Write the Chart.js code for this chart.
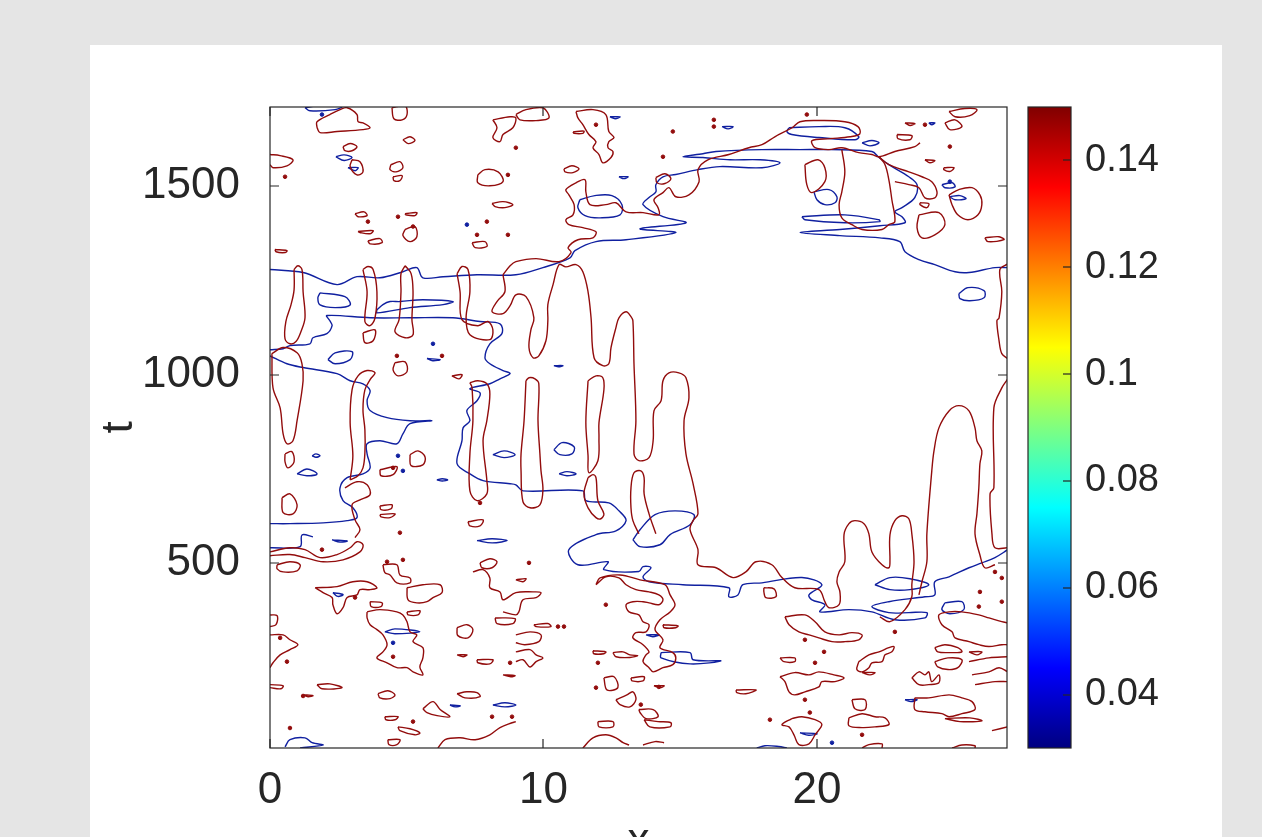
<!DOCTYPE html>
<html>
<head>
<meta charset="utf-8">
<script src="https://cdn.jsdelivr.net/npm/chart.js@4.4.0/dist/chart.umd.min.js"></script>
<style>
  html, body { margin: 0; padding: 0; background: #e5e5e5; width: 1262px; height: 837px; overflow: hidden; }
  #panel { position: absolute; left: 90px; top: 45px; width: 1132px; height: 792px; background: #fff; }
  #main { position: absolute; left: 0; top: 0; }
  #cbar { position: absolute; left: 1000px; top: 0; }
</style>
</head>
<body>
<div id="panel"></div>
<canvas id="main" width="1262" height="837"></canvas>
<canvas id="cbar" width="262" height="837"></canvas>
<script>
// axes
const xRange = [0, 26.95];
const tRange = [10, 1710];
const xTicks = [0, 10, 20];
const tTicks = [500, 1000, 1500];
const cbRange = [0.03, 0.15];
const cbTicks = [0.04, 0.06, 0.08, 0.10, 0.12, 0.14];

// low level contours (x, t pairs)
const blueContours = [
  [0,1279, 1.21,1271, 2.45,1239, 3.18,1260, 4.02,1257, 4.86,1273, 5.37,1284, 5.59,1257, 6.33,1260, 7.57,1265, 8.99,1265, 9.98,1284, 10.97,1310, 11.15,1329, 11.92,1353, 13.02,1358, 14.84,1377, 13.53,1387, 15.21,1403, 14.37,1419, 13.64,1451, 13.86,1470, 14.11,1485, 14.11,1504, 14.37,1525, 14.84,1531, 15.65,1544, 16.45,1552, 17.99,1549, 18.65,1562, 17.92,1570, 16.82,1570, 15.83,1576, 15.10,1578, 15.83,1586, 16.31,1592, 17.99,1597, 19.38,1597, 20.48,1597, 22.01,1592, 22.27,1576, 22.63,1557, 23.36,1525, 23.66,1504, 23.58,1470, 23.11,1443, 22.85,1432, 23.11,1419, 23.22,1403, 22.30,1395, 20.84,1385, 19.38,1377, 20.84,1369, 22.30,1363, 23.03,1353, 23.22,1326, 23.73,1305, 24.31,1292, 25.05,1273, 25.56,1271, 26.51,1284, 26.98,1284],
  [0,1050, 0.62,1029, 1.21,1019, 2.45,1003, 2.93,984, 3.40,976, 3.66,958, 3.55,931, 3.66,905, 4.28,886, 5.12,878, 5.92,878, 5.12,870, 4.86,843, 4.64,817, 4.02,825, 3.55,817, 3.55,790, 3.66,753, 3.40,737, 2.82,727, 2.56,700, 2.67,666, 3.03,647, 3.18,621, 2.82,613, 1.94,607, 0.73,605, 0,605],
  [0,1066, 0.48,1069, 0.73,1077, 1.46,1082, 1.57,1098, 2.08,1109, 2.27,1130, 2.19,1143, 2.08,1157, 3.66,1151, 5.12,1151, 6.69,1151, 7.68,1141, 8.41,1135, 8.48,1109, 8.04,1082, 7.86,1045, 8.04,1029, 8.52,1011, 8.78,1003, 8.41,989, 8.04,976, 7.31,963, 7.68,952, 7.57,931, 7.20,905, 7.31,878, 7.06,859, 7.02,825, 6.84,764, 7.31,737, 7.79,719, 8.78,711, 8.99,708, 9.25,692, 11.44,692, 11.55,666, 12.39,660, 12.76,639, 13.02,613, 12.65,586, 11.92,576, 10.93,536, 11.26,496, 12.36,504, 12.21,483, 13.49,478, 13.64,491, 13.93,488, 13.64,464, 13.86,451, 15.10,443, 16.78,435, 16.78,411, 17.11,416, 17.29,443, 17.99,448, 19.45,462, 20.18,443, 19.71,416, 19.82,403, 20.29,390, 20.11,371, 21.17,377, 22.01,371, 22.85,350, 23.95,355, 24.02,369, 23.36,369, 22.63,369, 22.01,385, 22.63,398, 23.95,411, 24.31,416, 24.31,451, 24.83,464, 25.56,488, 26.03,501, 26.51,515, 26.98,536],
  [18.98,1655, 20.07,1658, 21.02,1655, 21.53,1631, 21.39,1623, 20.07,1629, 19.08,1637, 18.90,1645, 18.98,1655],
  [19.89,1485, 20.44,1491, 20.73,1472, 20.66,1456, 20.29,1451, 20.00,1464, 19.89,1485],
  [19.45,1419, 21.02,1424, 22.27,1411, 22.30,1406, 21.02,1403, 19.56,1411, 19.45,1419],
  [21.65,1615, 22.01,1621, 22.27,1615, 21.94,1607, 21.65,1615],
  [24.57,1504, 24.95,1509, 25.05,1498, 24.68,1496, 24.57,1504],
  [24.86,1472, 25.23,1475, 25.45,1467, 25.05,1464, 24.86,1472],
  [25.19,1215, 25.52,1231, 26.11,1223, 26.11,1204, 25.59,1196, 25.23,1202, 25.19,1215],
  [1.28,1708, 2.01,1716, 2.63,1711, 2.38,1703, 1.46,1700, 1.28,1708],
  [2.41,1578, 2.71,1583, 3.00,1576, 2.71,1568, 2.41,1578],
  [2.85,1549, 3.22,1549, 3.11,1541, 2.85,1549],
  [12.43,1684, 12.80,1684, 12.62,1679, 12.43,1684],
  [16.53,1658, 16.93,1658, 16.75,1652, 16.53,1658],
  [12.76,1525, 13.09,1525, 12.94,1520, 12.76,1525],
  [24.09,1668, 24.31,1668, 24.20,1663, 24.09,1668],
  [11.33,1464, 11.88,1475, 12.50,1475, 12.87,1451, 12.80,1424, 12.07,1416, 11.52,1422, 11.26,1443, 11.33,1464],
  [1.83,1217, 2.74,1207, 2.93,1185, 2.38,1178, 1.83,1185, 1.75,1204, 1.83,1217],
  [3.91,1172, 4.13,1186, 4.39,1194, 4.75,1194, 5.59,1199, 6.69,1194, 6.33,1186, 5.12,1178, 3.91,1164, 3.91,1172],
  [2.12,1040, 2.38,1058, 3.00,1061, 2.93,1040, 2.38,1029, 2.12,1040],
  [0.99,737, 1.35,750, 1.72,737, 1.35,732, 0.99,737],
  [1.54,785, 1.68,790, 1.83,785, 1.68,781, 1.54,785],
  [8.15,788, 8.56,798, 8.96,788, 8.56,780, 8.15,788],
  [6.10,721, 6.30,724, 6.50,721, 6.30,718, 6.10,721],
  [5.74,1043, 6.22,1040, 5.95,1037, 5.74,1043],
  [10.38,1024, 10.71,1024, 10.55,1021, 10.38,1024],
  [10.38,801, 10.68,820, 11.12,809, 11.04,790, 10.60,788, 10.38,801],
  [10.57,737, 10.86,743, 11.19,737, 10.86,732, 10.57,737],
  [13.27,562, 13.53,589, 14.08,629, 14.81,639, 15.50,629, 15.36,602, 14.63,576, 14.26,549, 13.53,544, 13.27,562],
  [14.30,263, 15.36,263, 15.47,244, 16.49,241, 15.36,233, 14.30,249, 14.30,263],
  [13.75,310, 14.22,310, 14.00,305, 13.75,310],
  [4.20,318, 4.57,326, 5.48,318, 4.57,313, 4.20,318],
  [2.27,562, 2.82,559, 2.56,556, 2.27,562],
  [7.57,560, 8.12,565, 8.67,560, 8.12,554, 7.57,560],
  [2.30,422, 2.67,417, 2.48,412, 2.30,422],
  [6.58,124, 6.95,122, 6.77,119, 6.58,124],
  [8.15,124, 8.59,130, 8.99,124, 8.59,119, 8.15,124],
  [0.55,13, 0.73,32, 1.28,37, 1.54,24, 1.94,18, 1.10,10],
  [22.12,443, 22.67,462, 23.40,459, 24.09,443, 23.40,430, 22.67,430, 22.12,443],
  [24.68,395, 25.30,398, 25.37,377, 24.86,366, 24.57,377, 24.68,395],
  [23.22,138, 23.66,138, 23.44,133, 23.22,138],
  [19.38,50, 20.00,48, 19.70,44, 19.38,50],
  [17.8,10, 18.1,16, 18.6,14, 18.9,10],
  [0,541, 1.10,544, 1.17,575, 1.57,570]
];

// high level contours (x, t pairs)
const redContours = [
  [0.88,1279, 1.02,1289, 1.17,1279, 1.21,1220, 1.28,1151, 1.13,1114, 0.95,1088, 0.73,1082, 0.55,1095, 0.58,1141, 0.77,1186, 0.88,1225, 0.88,1279],
  [0.07,1056, 0.48,1072, 0.99,1058, 1.17,1029, 1.21,984, 0.99,878, 0.84,825, 0.62,817, 0.48,843, 0.37,912, 0.11,965, 0.07,1056],
  [2.93,721, 3.03,785, 2.93,873, 3.00,960, 3.22,997, 3.55,1011, 3.84,1005, 3.66,987, 3.47,960, 3.40,907, 3.47,854, 3.47,793, 3.40,753, 3.22,732, 2.93,721],
  [3.40,1279, 3.58,1287, 3.77,1279, 3.91,1220, 3.84,1151, 3.66,1130, 3.47,1141, 3.55,1220, 3.40,1279],
  [4.94,1289, 5.16,1268, 5.23,1220, 5.19,1146, 5.23,1106, 4.94,1098, 4.57,1114, 4.72,1146, 4.79,1220, 4.79,1268, 4.94,1289],
  [6.84,1268, 7.02,1287, 7.24,1279, 7.31,1220, 7.17,1151, 7.31,1106, 8.04,1093, 8.15,1119, 7.97,1141, 7.60,1130, 7.02,1146, 6.95,1220, 6.84,1268],
  [8.52,1265, 8.59,1220, 8.30,1194, 8.12,1167, 8.52,1162, 8.78,1183, 8.99,1212, 9.36,1207, 9.65,1151, 9.54,1119, 9.47,1072, 9.62,1045, 9.83,1050, 10.09,1090, 10.16,1143, 10.16,1186, 10.35,1239, 10.57,1292, 10.82,1286, 11.19,1292, 11.44,1273, 11.63,1220, 11.74,1151, 11.85,1045, 12.17,1024, 12.39,1029, 12.47,1072, 12.65,1125, 12.76,1151, 13.02,1167, 13.20,1154, 13.27,1143, 13.31,1029, 13.38,878, 13.31,790, 13.49,772, 13.86,780, 14.01,825, 14.04,904, 14.30,931, 14.37,984, 14.59,1005, 14.95,1005, 15.21,992, 15.32,939, 15.14,878, 15.21,790, 15.47,711, 15.65,631, 15.47,613, 15.36,589, 15.65,536, 15.65,496, 16.31,488, 16.93,462, 17.40,477, 17.77,504, 18.35,496, 18.72,462, 19.19,435, 20.07,430, 20.29,398, 20.44,382, 20.81,390, 20.84,424, 20.73,451, 20.81,477, 21.02,504, 20.99,576, 21.17,605, 21.39,613, 21.72,605, 21.90,578, 22.01,530, 22.38,496, 22.63,488, 22.67,504, 22.67,575, 22.85,613, 23.11,626, 23.36,618, 23.47,578, 23.55,504, 23.47,443, 23.47,411, 23.22,377, 22.67,345, 22.30,358],
  [8.52,1265, 8.78,1289, 8.99,1300, 9.73,1308, 10.57,1300, 11.01,1324, 10.90,1337, 11.26,1358, 11.81,1363, 11.92,1379, 11.44,1390, 10.93,1398, 10.82,1411, 11.08,1424, 11.12,1451, 10.93,1477, 10.82,1491, 11.19,1509, 11.52,1517, 11.55,1485, 11.70,1451, 12.28,1451, 12.65,1456, 13.02,1432, 13.64,1430, 14.22,1424, 14.19,1443, 14.04,1464, 14.37,1483, 14.59,1496, 14.84,1472, 15.32,1477, 15.69,1512, 15.65,1544, 16.01,1570, 16.78,1584, 17.51,1602, 17.99,1610, 18.46,1631, 19.09,1655, 19.38,1671, 20.11,1674, 21.02,1671, 21.50,1658, 21.57,1639, 21.21,1631, 20.48,1626, 19.82,1621, 19.93,1602, 20.44,1597, 20.91,1602, 21.53,1589, 22.01,1584, 22.27,1578, 22.85,1592, 23.58,1605, 23.77,1615],
  [23.73,416, 23.84,451, 24.02,504, 24.02,578, 24.20,745, 24.28,798, 24.46,859, 24.83,904, 25.19,918, 25.56,904, 25.78,859, 25.85,825, 26.03,798, 25.96,764, 25.92,700, 25.85,631, 25.78,578, 25.96,522, 26.14,488, 26.51,496],
  [26.98,989, 26.76,965, 26.47,912, 26.47,700, 26.33,684, 26.40,578, 26.51,541, 26.98,541],
  [26.98,1294, 26.69,1279, 26.76,1220, 26.66,1151, 26.58,1143, 26.66,1090, 26.76,1056, 26.98,1042],
  [9.36,984, 9.47,992, 9.69,989, 9.83,976, 9.80,878, 9.87,790, 9.91,745, 9.98,695, 9.87,655, 9.51,647, 9.25,663, 9.18,745, 9.18,790, 9.29,878, 9.36,984],
  [11.63,984, 11.92,997, 12.17,992, 12.21,960, 12.03,873, 12.03,833, 11.99,772, 11.66,740, 11.63,785, 11.55,873, 11.63,984],
  [11.63,727, 11.81,735, 11.92,727, 11.99,666, 12.21,631, 12.10,618, 11.92,621, 11.63,647, 11.48,684, 11.63,727],
  [14.11,578, 13.86,631, 13.68,684, 13.68,727, 13.56,745, 13.31,740, 13.20,700, 13.20,647, 13.27,613, 13.49,578],
  [7.31,979, 7.60,984, 7.93,976, 8.04,949, 7.93,878, 7.79,825, 7.93,719, 7.93,684, 7.57,666, 7.31,692, 7.31,790, 7.42,878, 7.39,965, 7.31,979],
  [2.74,700, 3.18,716, 3.55,708, 3.66,682, 3.29,668, 3.00,655, 3.11,615, 3.29,589, 3.11,568],
  [1.72,1655, 1.72,1671, 2.19,1690, 2.56,1703, 2.82,1708, 3.18,1690, 3.22,1671, 3.40,1668, 3.66,1655, 3.40,1650, 2.45,1645, 1.83,1642, 1.72,1655],
  [4.46,1708, 4.94,1713, 5.01,1690, 4.83,1676, 4.53,1679, 4.46,1708],
  [4.86,1623, 5.12,1631, 5.30,1621, 5.05,1613, 4.86,1623],
  [2.67,1605, 2.93,1613, 3.18,1605, 3.00,1594, 2.74,1594, 2.67,1605],
  [0,1584, 0.37,1581, 0.84,1570, 0.62,1554, 0.11,1549, 0,1557],
  [3.00,1570, 3.29,1565, 3.40,1538, 3.18,1530, 2.93,1552, 3.00,1570],
  [4.42,1557, 4.75,1565, 4.86,1549, 4.61,1538, 4.39,1544, 4.42,1557],
  [4.50,1525, 4.83,1528, 4.75,1515, 4.53,1515, 4.50,1525],
  [8.15,1676, 8.78,1684, 8.99,1681, 8.88,1655, 8.52,1637, 8.41,1618, 8.15,1629, 8.30,1655, 8.15,1676],
  [7.60,1530, 7.86,1544, 8.34,1538, 8.52,1512, 8.04,1501, 7.60,1509, 7.60,1530],
  [8.12,1454, 8.52,1459, 8.88,1451, 8.59,1443, 8.23,1446, 8.12,1454],
  [7.39,1350, 7.86,1353, 7.93,1340, 7.50,1337, 7.39,1350],
  [4.94,1385, 5.30,1393, 5.37,1366, 5.12,1353, 4.86,1369, 4.94,1385],
  [3.58,1355, 4.02,1361, 4.10,1350, 3.66,1347, 3.58,1355],
  [3.11,1427, 3.44,1432, 3.55,1422, 3.22,1419, 3.11,1427],
  [4.94,1427, 5.37,1430, 5.30,1422, 4.97,1424, 4.94,1427],
  [3.22,1380, 3.77,1382, 3.66,1374, 3.29,1377, 3.22,1380],
  [0.18,1332, 0.62,1329, 0.55,1324, 0.22,1326, 0.18,1332],
  [8.99,1690, 9.36,1703, 9.98,1708, 10.20,1681, 9.73,1674, 9.14,1676, 8.99,1690],
  [11.19,1698, 11.81,1703, 12.28,1690, 12.39,1645, 12.58,1629, 12.39,1618, 12.36,1602, 12.54,1592, 12.47,1576, 12.17,1562, 12.03,1584, 11.81,1602, 11.92,1618, 11.66,1637, 11.44,1663, 11.26,1681, 11.19,1698],
  [10.75,1546, 11.04,1554, 11.30,1546, 11.08,1536, 10.79,1538, 10.75,1546],
  [11.08,1644, 11.48,1646, 11.44,1640, 11.12,1640, 11.08,1644],
  [14.11,1523, 14.44,1533, 14.66,1520, 14.44,1507, 14.15,1509, 14.11,1523],
  [20.91,1597, 21.02,1538, 20.91,1485, 20.81,1451, 20.91,1416, 21.28,1398, 21.65,1385, 22.38,1385, 22.63,1398, 22.85,1406, 22.74,1464, 22.63,1517, 22.49,1557, 22.27,1578],
  [19.56,1557, 20.04,1570, 20.29,1549, 20.29,1512, 19.82,1483, 19.63,1504, 19.56,1557],
  [22.27,1578, 22.63,1557, 23.36,1538, 23.84,1525, 24.20,1512, 24.39,1485, 24.31,1469, 23.95,1469, 23.73,1496, 23.36,1504, 22.85,1512],
  [24.83,1477, 25.19,1491, 25.67,1496, 25.96,1477, 26.03,1451, 25.89,1424, 25.52,1411, 25.15,1424, 24.94,1451, 24.83,1477],
  [23.73,1424, 24.46,1430, 24.68,1398, 24.31,1371, 23.84,1363, 23.66,1390, 23.73,1424],
  [26.14,1363, 26.66,1366, 26.84,1358, 26.25,1353, 26.14,1363],
  [24.83,1698, 25.41,1706, 25.85,1703, 25.59,1687, 25.05,1684, 24.83,1698],
  [24.68,1668, 25.05,1676, 25.30,1658, 24.86,1650, 24.68,1668],
  [22.93,1637, 23.47,1634, 23.40,1623, 22.96,1626, 22.93,1637],
  [23.22,1668, 23.58,1666, 23.40,1661, 23.22,1668],
  [23.95,1570, 24.31,1568, 24.13,1562, 23.95,1570],
  [24.64,1549, 25.01,1549, 24.86,1539, 24.64,1544, 24.64,1549],
  [23.77,1456, 24.09,1454, 24.02,1443, 23.77,1451, 23.77,1456],
  [3.40,1111, 3.84,1119, 3.77,1090, 3.47,1085, 3.40,1111],
  [4.57,1032, 4.94,1034, 5.01,1008, 4.68,997, 4.50,1013, 4.57,1032],
  [4.02,748, 4.64,756, 4.50,735, 4.06,732, 4.02,748],
  [5.12,788, 5.41,798, 5.67,782, 5.59,761, 5.16,759, 5.12,788],
  [0.44,674, 0.73,684, 0.99,655, 0.84,631, 0.48,634, 0.44,674],
  [0.55,790, 0.80,796, 0.88,769, 0.66,753, 0.55,769, 0.55,790],
  [4.02,652, 4.46,655, 4.42,644, 4.06,642, 4.02,652],
  [4.02,629, 4.57,631, 4.39,621, 4.06,623, 4.02,629],
  [7.24,610, 7.79,615, 7.68,599, 7.31,599, 7.24,610],
  [6.65,997, 7.02,1000, 6.91,989, 6.65,997],
  [0,530, 0.73,541, 1.28,536, 1.83,515, 2.45,523, 2.93,541, 3.18,557, 3.40,549, 3.29,530, 2.67,509, 1.94,504, 1.28,515, 0.73,523, 0,520],
  [0.26,496, 0.73,504, 1.10,496, 0.99,480, 0.48,477, 0.26,485, 0.26,496],
  [1.65,435, 2.45,438, 3.03,451, 3.55,451, 3.91,435, 3.66,430, 3.29,430, 3.18,416, 2.82,409, 2.67,382, 2.45,366, 2.30,390, 2.27,409, 1.94,422, 1.65,435],
  [3.66,398, 4.10,395, 4.06,385, 3.70,385, 3.66,398],
  [4.13,496, 4.64,496, 4.75,469, 5.12,461, 5.12,448, 4.64,448, 4.39,469, 4.20,475, 4.13,496],
  [5.01,435, 5.59,443, 6.22,443, 6.29,422, 5.96,409, 5.74,398, 5.37,395, 5.05,403, 5.01,435],
  [3.55,371, 4.02,377, 4.64,371, 4.86,363, 5.01,345, 5.12,318, 5.37,310, 5.23,292, 5.59,276, 5.59,249, 5.48,225, 5.59,204, 5.23,212, 5.01,223, 4.64,223, 4.28,236, 3.91,249, 4.13,265, 4.28,284, 4.13,310, 3.91,324, 3.66,337, 3.55,355, 3.55,371],
  [5.01,371, 5.48,374, 5.41,363, 5.05,363, 5.01,371],
  [6.84,329, 7.20,337, 7.42,324, 7.24,302, 6.87,308, 6.84,329],
  [7.68,501, 8.04,512, 8.30,504, 8.12,488, 7.75,488, 7.68,501],
  [7.42,477, 7.79,483, 8.04,461, 8.04,435, 8.41,424, 8.52,403, 8.99,422, 9.62,424, 9.91,422, 9.73,409, 9.25,403, 9.10,371, 8.99,363, 8.52,371],
  [0,363, 0.26,361, 0.22,337, 0,332],
  [0,310, 0.48,310, 0.73,297, 1.02,284, 0.73,271, 0.37,257, 0.11,236, 0,223],
  [1.72,178, 2.19,180, 2.63,170, 1.90,167, 1.72,178],
  [0,178, 0.48,175, 0.40,167, 0,170],
  [1.21,151, 1.57,149, 1.39,146, 1.21,151],
  [3.95,154, 4.31,162, 4.57,151, 4.39,141, 4.02,143, 3.95,154],
  [5.59,114, 5.96,133, 6.22,112, 6.58,93, 6.11,96, 5.74,104, 5.59,114],
  [6.84,154, 7.20,159, 7.57,157, 7.68,146, 7.13,143, 6.84,154],
  [4.20,93, 4.68,93, 4.57,85, 4.24,85, 4.20,93],
  [4.68,66, 5.12,61, 5.48,50, 5.30,45, 4.75,56, 4.68,66],
  [4.31,32, 4.75,32, 4.64,19, 4.35,19, 4.31,32],
  [6.14,10, 6.40,32, 6.95,37, 7.50,32, 8.04,45, 8.41,64, 8.85,77, 8.99,80],
  [7.57,244, 8.15,244, 8.04,233, 7.60,236, 7.57,244],
  [6.84,257, 7.20,257, 7.06,252, 6.84,257],
  [8.52,204, 8.96,202, 8.81,199, 8.52,204],
  [8.23,355, 8.96,353, 8.88,340, 8.30,340, 8.23,355],
  [8.99,456, 9.36,459, 9.25,451, 8.99,456],
  [9.65,337, 10.16,340, 10.27,332, 9.73,332, 9.65,337],
  [8.99,310, 9.51,318, 9.91,310, 9.83,292, 9.32,284, 8.99,289],
  [8.99,265, 9.51,271, 9.73,257, 9.98,249, 9.73,239, 9.51,225, 9.25,244, 8.99,239],
  [11.81,268, 12.28,265, 12.21,260, 11.84,260, 11.81,268],
  [12.54,263, 12.91,265, 13.16,257, 13.45,255, 13.16,250, 12.65,252, 12.54,263],
  [12.21,196, 12.58,199, 12.72,170, 12.32,164, 12.21,196],
  [13.20,196, 13.68,199, 13.64,188, 13.24,188, 13.20,196],
  [14.04,175, 14.41,175, 14.26,170, 14.04,175],
  [12.65,138, 13.05,151, 13.27,159, 13.38,138, 13.16,119, 12.80,125, 12.65,138],
  [13.49,112, 14.01,112, 14.19,93, 13.75,88, 13.53,104, 13.49,112],
  [11.99,80, 12.54,80, 12.54,66, 12.03,66, 11.99,80],
  [13.68,85, 14.19,80, 14.66,77, 14.63,66, 13.89,66, 13.68,85],
  [17.04,164, 17.77,164, 17.40,154, 17.07,157, 17.04,164],
  [11.44,10, 11.81,37, 12.28,45, 12.65,37, 12.91,24, 13.13,18],
  [13.64,18, 14.08,27, 14.41,24],
  [11.92,443, 12.28,464, 12.76,461, 13.02,443, 13.38,430, 13.86,424, 14.22,416, 14.37,403, 14.22,390, 13.86,395, 13.64,398, 13.27,398, 13.02,390, 13.13,371, 13.49,363, 13.64,345, 13.86,337, 13.75,318, 13.38,316, 13.27,302, 13.64,284, 13.86,265, 13.75,257, 13.64,239, 13.86,223, 14.01,212, 14.37,223, 14.73,231, 14.84,249, 14.73,263, 14.26,276, 14.37,297, 14.08,324, 14.26,350, 14.63,371, 14.81,390, 14.63,416, 14.44,443, 13.53,456, 12.80,469, 12.07,461, 11.92,443],
  [14.37,337, 14.92,334, 14.84,329, 14.41,329, 14.37,337],
  [18.06,435, 18.43,432, 18.50,411, 18.13,409, 18.06,424, 18.06,435],
  [18.83,358, 19.56,363, 19.93,345, 20.29,318, 20.81,310, 21.28,316, 21.65,310, 21.53,297, 21.02,292, 20.55,292, 20.07,302, 19.71,310, 19.34,318, 18.98,337, 18.83,358],
  [18.65,249, 19.19,249, 19.19,239, 18.79,239, 18.65,249],
  [21.53,239, 21.90,257, 22.27,265, 22.63,276, 22.82,279, 22.74,265, 22.49,257, 22.38,239, 22.01,236, 21.90,223, 21.65,212, 21.46,218, 21.53,239],
  [21.65,210, 22.12,210, 21.94,204, 21.65,210],
  [18.65,199, 19.19,210, 19.71,204, 20.07,212, 20.62,204, 20.99,196, 20.66,186, 20.18,186, 20.07,172, 19.56,159, 19.19,151, 18.98,159, 18.83,186, 18.65,199],
  [23.47,196, 23.73,212, 23.95,204, 24.09,212, 24.20,186, 24.46,204, 24.46,183, 24.09,178, 23.73,178, 23.47,196],
  [24.31,276, 24.68,284, 25.15,276, 25.30,265, 24.86,263, 24.42,265, 24.31,276],
  [24.31,239, 24.79,249, 25.30,244, 25.15,223, 24.79,218, 24.42,225, 24.31,239],
  [26.98,342, 26.76,345, 26.29,355, 25.92,363, 25.30,371, 24.83,371, 24.46,363, 24.57,337, 24.94,318, 25.05,302, 25.56,292, 25.92,284, 26.29,279, 26.76,284, 26.98,284],
  [25.56,239, 26.29,249, 26.98,252],
  [25.67,204, 26.29,212, 26.66,223, 26.98,212],
  [25.78,178, 26.51,186, 26.98,186],
  [25.56,265, 26.03,265, 25.85,257, 25.56,265],
  [23.58,143, 24.09,143, 24.83,151, 25.30,143, 25.67,133, 25.78,112, 25.30,101, 24.83,93, 24.57,101, 23.95,106, 23.58,112, 23.58,143],
  [24.68,88, 25.59,90, 26.03,82, 25.23,80, 24.68,88],
  [26.40,56, 26.98,66],
  [21.28,138, 21.76,138, 21.76,112, 21.39,114, 21.28,138],
  [21.17,90, 21.65,101, 22.12,93, 22.49,90, 22.63,72, 22.12,66, 21.65,64, 21.17,69, 21.17,90],
  [19.08,88, 19.45,93, 19.93,85, 20.18,72, 19.93,45, 19.71,21, 19.34,19, 19.16,45, 18.98,66, 18.72,72, 19.08,88],
  [21.65,10, 21.90,19, 22.38,21, 22.38,10],
  [24.94,10, 25.30,18, 25.78,16, 25.78,10]
];

// tiny closed contours
const redDots = [0.55,1525, 3.58,1406, 4.68,1419, 5.23,1393, 7.57,1371, 7.93,1406, 8.70,1530, 8.70,1371, 11.92,1663, 16.23,1676, 16.23,1658, 8.99,1602, 19.63,1690, 24.86,1605, 4.64,1050, 6.29,1050, 4.50,753, 7.68,660, 4.75,581, 1.90,536, 4.86,509, 4.28,504, 3.11,409, 4.50,252, 0.37,302, 0.62,239, 5.23,80, 8.78,236, 8.85,93, 8.12,93, 9.47,501, 12.28,390, 10.75,332, 11.99,236, 11.92,170, 14.22,172, 13.56,125, 22.85,318, 20.26,265, 19.56,297, 19.93,236, 19.56,138, 19.74,104, 18.28,85, 21.65,45, 25.92,385, 26.76,398, 26.51,477, 26.76,461, 25.96,424, 14.37,1578, 14.73,1645, 10.53,332, 0.73,63, 1.21,148, 23.95,1663];
const blueDots = [1.90,1690, 7.20,1398, 5.96,1082, 4.68,785, 4.86,745, 4.50,289, 20.55,24, 24.86,1512];

const RED = '#920c0c';
const BLUE = '#1020a0';
const AXIS = '#262626';
const FONT = "'Liberation Sans', Arial, sans-serif";

function toPoints(flat) {
    const pts = [];
    for (let i = 0; i < flat.length; i += 2) pts.push({x: flat[i], y: flat[i + 1]});
    return pts;
}

function lineSet(flat, color) {
    return {data: toPoints(flat), showLine: true, borderColor: color, borderWidth: 1.4,
            pointRadius: 0, tension: 0.35, fill: false};
}

const framePlugin = {
    id: 'frame',
    afterDatasetsDraw(chart, args, opts) {
        const {ctx, chartArea: a} = chart;
        ctx.save();
        ctx.strokeStyle = opts.color;
        ctx.lineWidth = 1.2;
        ctx.strokeRect(a.left, a.top, a.right - a.left, a.bottom - a.top);
        const len = opts.tickLength;
        Object.values(chart.scales).forEach(s => {
            if (!s.options.display) return;
            s.ticks.forEach(t => {
                const p = Math.round(s.getPixelForValue(t.value));
                ctx.beginPath();
                if (s.isHorizontal()) {
                    if (opts.sides.includes('bottom')) { ctx.moveTo(p, a.bottom); ctx.lineTo(p, a.bottom - len); }
                    if (opts.sides.includes('top')) { ctx.moveTo(p, a.top); ctx.lineTo(p, a.top + len); }
                } else {
                    if (opts.sides.includes('left')) { ctx.moveTo(a.left, p); ctx.lineTo(a.left + len, p); }
                    if (opts.sides.includes('right')) { ctx.moveTo(a.right, p); ctx.lineTo(a.right - len, p); }
                }
                ctx.stroke();
            });
        });
        ctx.restore();
    }
};

const datasets = [];
redContours.forEach(c => datasets.push(lineSet(c, RED)));
blueContours.forEach(c => datasets.push(lineSet(c, BLUE)));
datasets.push({data: toPoints(redDots), showLine: false, pointRadius: 1.8, pointBorderWidth: 1,
               pointBackgroundColor: RED, pointBorderColor: RED});
datasets.push({data: toPoints(blueDots), showLine: false, pointRadius: 1.8, pointBorderWidth: 1,
               pointBackgroundColor: BLUE, pointBorderColor: BLUE});

new Chart(document.getElementById('main'), {
    type: 'scatter',
    data: {datasets: datasets},
    options: {
        responsive: false,
        animation: false,
        devicePixelRatio: 1,
        events: [],
        layout: {padding: {left: 0, top: 107, right: 255, bottom: 0}},
        plugins: {legend: {display: false}, tooltip: {enabled: false},
                  frame: {color: AXIS, tickLength: 9, sides: ['left', 'right', 'top', 'bottom']}},
        scales: {
            x: {
                type: 'linear', min: xRange[0], max: xRange[1],
                afterBuildTicks: s => { s.ticks = xTicks.map(v => ({value: v})); },
                afterFit: s => { s.height = 89; },
                grid: {display: false, drawTicks: false},
                border: {display: false},
                ticks: {padding: 16, color: AXIS, font: {family: FONT, size: 44}, maxRotation: 0, autoSkip: false,
                        callback: v => String(v)},
                title: {display: true, text: 'x', color: AXIS, font: {family: FONT, size: 44}, padding: {top: 0, bottom: -31}}
            },
            y: {
                type: 'linear', min: tRange[0], max: tRange[1],
                afterBuildTicks: s => { s.ticks = tTicks.map(v => ({value: v})); },
                afterFit: s => { s.width = 270; },
                grid: {display: false, drawTicks: false},
                border: {display: false},
                ticks: {padding: 30, color: AXIS, font: {family: FONT, size: 44}, autoSkip: false,
                        callback: v => String(v)},
                title: {display: true, text: 't', color: AXIS, font: {family: FONT, size: 44}, padding: {top: 93, bottom: 0}}
            }
        }
    },
    plugins: [framePlugin]
});

// jet colour map for the colour bar
const jetStops = [[0, '#000080'], [0.125, '#0000ff'], [0.375, '#00ffff'], [0.625, '#ffff00'], [0.875, '#ff0000'], [1, '#800000']];

new Chart(document.getElementById('cbar'), {
    type: 'bar',
    data: {
        labels: [''],
        datasets: [{
            data: [cbRange],
            borderWidth: 0,
            barPercentage: 1,
            categoryPercentage: 1,
            backgroundColor: c => {
                const a = c.chart.chartArea;
                if (!a) return null;
                const g = c.chart.ctx.createLinearGradient(0, a.bottom, 0, a.top);
                jetStops.forEach(([p, col]) => g.addColorStop(p, col));
                return g;
            }
        }]
    },
    options: {
        responsive: false,
        animation: false,
        devicePixelRatio: 1,
        events: [],
        layout: {padding: {left: 28, top: 107, right: 0, bottom: 89}},
        plugins: {legend: {display: false}, tooltip: {enabled: false},
                  frame: {color: AXIS, tickLength: 8, sides: ['right']}},
        scales: {
            x: {display: false},
            y: {
                position: 'right', min: cbRange[0], max: cbRange[1],
                afterBuildTicks: s => { s.ticks = cbTicks.map(v => ({value: v})); },
                afterFit: s => { s.width = 191; },
                grid: {display: false, drawTicks: false},
                border: {display: false},
                ticks: {padding: 14, color: AXIS, font: {family: FONT, size: 38}, autoSkip: false,
                        callback: v => String(+v.toFixed(2))}
            }
        }
    },
    plugins: [framePlugin]
});
</script>
</body>
</html>
